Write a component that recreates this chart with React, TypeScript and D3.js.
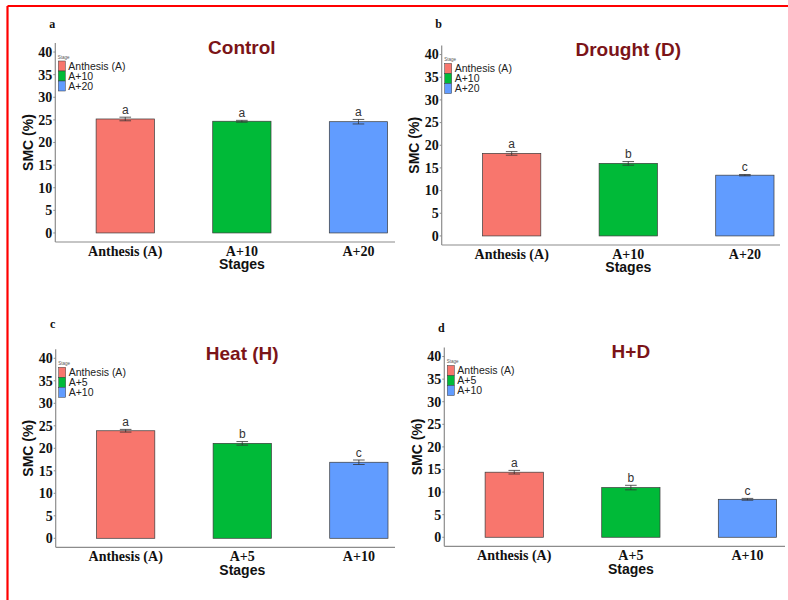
import React from 'react';
import * as d3 from 'd3';

// Stage categories for each stress treatment
const stagesLong = ['Anthesis (A)', 'A+10', 'A+20'];
const stagesShort = ['Anthesis (A)', 'A+5', 'A+10'];

// Soil moisture content (%) means, standard errors and significance letters
const controlSMC = [25.2, 24.7, 24.6];
const controlSE = [0.4, 0.2, 0.5];
const controlLetters = ['a', 'a', 'a'];

const droughtSMC = [18.2, 16.0, 13.4];
const droughtSE = [0.4, 0.4, 0.15];
const droughtLetters = ['a', 'b', 'c'];

const heatSMC = [23.9, 21.1, 16.9];
const heatSE = [0.3, 0.4, 0.5];
const heatLetters = ['a', 'b', 'c'];

const heatDroughtSMC = [14.4, 11.0, 8.4];
const heatDroughtSE = [0.4, 0.5, 0.2];
const heatDroughtLetters = ['a', 'b', 'c'];

const yTicks = [0, 5, 10, 15, 20, 25, 30, 35, 40];
const stageColors = ['#F8766D', '#00BA38', '#619CFF'];

const W = 788;
const H = 600;
const STEP = 116.6;

const serif = '"Liberation Serif", "Times New Roman", serif';
const sans = '"Liberation Sans", Arial, sans-serif';

type Frame = { x: number; top: number; bottom: number; axisEnd: number; tagY: number };

const panels = [
  { tag: 'a', title: 'Control', stages: stagesLong, values: controlSMC, se: controlSE, letters: controlLetters,
    frame: { x: 55.3, top: 43, bottom: 242, axisEnd: 395, tagY: 24 } },
  { tag: 'b', title: 'Drought (D)', stages: stagesLong, values: droughtSMC, se: droughtSE, letters: droughtLetters,
    frame: { x: 441.7, top: 45.5, bottom: 245, axisEnd: 780, tagY: 24 } },
  { tag: 'c', title: 'Heat (H)', stages: stagesShort, values: heatSMC, se: heatSE, letters: heatLetters,
    frame: { x: 55.7, top: 349.3, bottom: 547.3, axisEnd: 395, tagY: 324 } },
  { tag: 'd', title: 'H+D', stages: stagesShort, values: heatDroughtSMC, se: heatDroughtSE, letters: heatDroughtLetters,
    frame: { x: 444.3, top: 347.5, bottom: 546.3, axisEnd: 785, tagY: 327.3 } },
];

function Panel(props: {
  tag: string; title: string; stages: string[]; values: number[]; se: number[]; letters: string[]; frame: Frame;
}) {
  const { tag, title, stages, values, se, letters, frame } = props;
  const x = d3.scaleBand<string>()
    .domain(stages)
    .range([frame.x, frame.x + 3.2 * STEP])
    .paddingInner(0.5)
    .paddingOuter(0.35);
  const y = d3.scaleLinear().domain([-2, 42]).range([frame.bottom, frame.top]);
  const bw = x.bandwidth();
  const capHalf = 5.8;
  const midX = (frame.x + frame.x + 3.2 * STEP) / 2;

  return (
    <g>
      {/* panel tag */}
      <text x={frame.x - 3} y={frame.tagY} dy="0.35em" textAnchor="middle"
        fontFamily={serif} fontWeight="bold" fontSize={12} fill="#111">{tag}</text>

      {/* title */}
      <text x={midX} y={frame.top + 4} dy="0.35em" textAnchor="middle"
        fontFamily={sans} fontWeight="bold" fontSize={19} fill="#7B1418">{title}</text>

      {/* axes */}
      <line x1={frame.x} x2={frame.x} y1={frame.top} y2={frame.bottom} stroke="#8c8c8c" strokeWidth={1.2} />
      <line x1={frame.x} x2={frame.axisEnd} y1={frame.bottom} y2={frame.bottom} stroke="#8c8c8c" strokeWidth={1.2} />

      {yTicks.map(t => (
        <g key={t}>
          <line x1={frame.x - 2} x2={frame.x} y1={y(t)} y2={y(t)} stroke="#8c8c8c" strokeWidth={1} />
          <text x={frame.x - 3} y={y(t)} dy="0.35em" textAnchor="end"
            fontFamily={serif} fontWeight="bold" fontSize={14} fill="#111">{t}</text>
        </g>
      ))}

      {/* y axis title */}
      <text transform={`translate(${frame.x - 27.5},${(frame.top + frame.bottom) / 2}) rotate(-90)`}
        dy="0.35em" textAnchor="middle" fontFamily={sans} fontWeight="bold" fontSize={14} fill="#111">SMC (%)</text>

      {/* bars, error bars, letters */}
      {stages.map((s, i) => {
        const x0 = x(s) as number;
        const cx = x0 + bw / 2;
        const hi = values[i] + se[i];
        const lo = values[i] - se[i];
        return (
          <g key={s}>
            <rect x={x0} y={y(values[i])} width={bw} height={y(0) - y(values[i])}
              fill={stageColors[i]} stroke="#3a3a3a" strokeWidth={0.7} />
            <line x1={cx} x2={cx} y1={y(hi)} y2={y(lo)} stroke="#333" strokeWidth={0.8} />
            <line x1={cx - capHalf} x2={cx + capHalf} y1={y(hi)} y2={y(hi)} stroke="#333" strokeWidth={0.8} />
            <line x1={cx - capHalf} x2={cx + capHalf} y1={y(lo)} y2={y(lo)} stroke="#333" strokeWidth={0.8} />
            <text x={cx} y={y(hi) - 3.5} textAnchor="middle" fontFamily={sans} fontSize={12} fill="#333">{letters[i]}</text>
            <text x={cx} y={frame.bottom + 9} dy="0.35em" textAnchor="middle"
              fontFamily={serif} fontWeight="bold" fontSize={14} fill="#111">{s}</text>
          </g>
        );
      })}

      {/* x axis title */}
      <text x={x(stages[1])! + bw / 2} y={frame.bottom + 22.5} dy="0.35em" textAnchor="middle"
        fontFamily={sans} fontWeight="bold" fontSize={14} fill="#111">Stages</text>

      {/* legend */}
      <text x={frame.x + 2.5} y={frame.top + 14} dy="0.35em" fontFamily={sans} fontSize={4.5} fill="#555">Stage</text>
      {stages.map((s, i) => {
        const cy = frame.top + 23 + 10 * i;
        return (
          <g key={'lg' + s}>
            <rect x={frame.x + 3} y={cy - 5} width={7} height={10} fill={stageColors[i]} stroke="#3a3a3a" strokeWidth={0.5} />
            <text x={frame.x + 13} y={cy} dy="0.35em" fontFamily={sans} fontSize={10.5} fill="#222">{s}</text>
          </g>
        );
      })}
    </g>
  );
}

export default function App() {
  return (
    <svg width={W} height={H} style={{ position: 'absolute', left: 0, top: 0, background: '#fff' }}>
      <rect x={0} y={0} width={W} height={H} fill="#fff" />
      {/* frame edge */}
      <line x1={7.5} x2={W} y1={6} y2={6} stroke="#ff0000" strokeWidth={2.2} />
      <line x1={7.5} x2={7.5} y1={6} y2={H} stroke="#ff0000" strokeWidth={2.2} />
      {panels.map(p => (
        <Panel key={p.tag} {...p} />
      ))}
    </svg>
  );
}
